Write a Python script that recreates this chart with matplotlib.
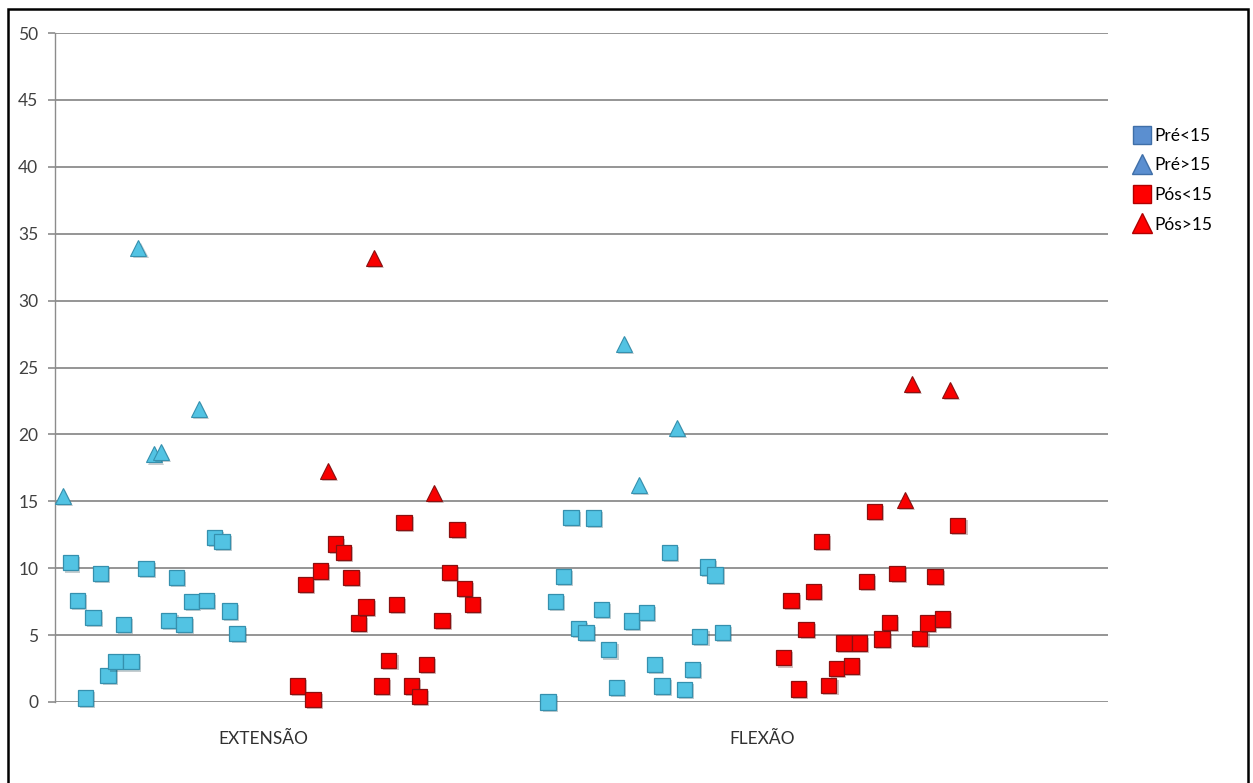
import matplotlib.pyplot as plt
import matplotlib.patheffects as pe
from matplotlib.lines import Line2D
from matplotlib.patches import Rectangle

plt.rcParams['font.family'] = ['Lato', 'DejaVu Sans']

# category index of every point, and its value (square < 15, triangle > 15)
pre_ext_x = list(range(1, 25))
pre_ext_y = [15.4, 10.4, 7.6, 0.3, 6.3, 9.6, 2.0, 3.0, 5.8, 3.0, 33.9, 10.0,
             18.5, 18.7, 6.1, 9.3, 5.8, 7.5, 21.9, 7.6, 12.3, 12.0, 6.8, 5.1]
pos_ext_x = list(range(32, 56))
pos_ext_y = [1.2, 8.8, 0.2, 9.8, 17.3, 11.8, 11.2, 9.3, 5.9, 7.1, 33.2, 1.2,
             3.1, 7.3, 13.4, 1.2, 0.4, 2.8, 15.6, 6.1, 9.7, 12.9, 8.5, 7.3]
pre_flx_x = list(range(65, 89))
pre_flx_y = [0.0, 7.5, 9.4, 13.8, 5.5, 5.2, 13.75, 6.9, 3.9, 1.1, 26.75, 6.05,
             16.25, 6.7, 2.8, 1.2, 11.2, 20.5, 0.95, 2.45, 4.9, 10.1, 9.5, 5.2]
pos_flx_x = list(range(96, 120))
pos_flx_y = [3.3, 7.6, 0.98, 5.4, 8.25, 12.0, 1.25, 2.5, 4.4, 2.7, 4.4, 9.0,
             14.25, 4.7, 5.95, 9.6, 15.1, 23.8, 4.75, 5.9, 9.4, 6.2, 23.3, 13.2]

categories = ['EXTENSÃO', 'FLEXÃO']
cat_pos = [27.5, 93.2]
legend_labels = ['Pré<15', 'Pré>15', 'Pós<15', 'Pós>15']

fig = plt.figure(figsize=(12.53, 7.83), dpi=100)
ax = fig.add_axes([55 / 1253, 81 / 783, 1053 / 1253, 669 / 783])

shadow = [pe.SimplePatchShadow(offset=(1.5, -1.5), alpha=0.25), pe.Normal()]

def draw(xs, ys, face, edge):
    for x, y in zip(xs, ys):
        if y > 15:
            ax.plot(x, y, marker='^', ms=11.5, mfc=face, mec=edge, mew=0.8,
                    linestyle='none', clip_on=False, zorder=3, path_effects=shadow)
        else:
            ax.plot(x, y, marker='s', ms=11, mfc=face, mec=edge, mew=0.9,
                    linestyle='none', clip_on=False, zorder=3, path_effects=shadow)

draw(pre_ext_x, pre_ext_y, '#52C3E3', '#3590AE')
draw(pre_flx_x, pre_flx_y, '#52C3E3', '#3590AE')
draw(pos_ext_x, pos_ext_y, '#F80000', '#8A1010')
draw(pos_flx_x, pos_flx_y, '#F80000', '#8A1010')

ax.set_xlim(0, 138.8)
ax.set_ylim(0, 50)
ax.set_yticks(range(0, 51, 5))
ax.set_xticks(cat_pos)
ax.set_xticklabels(categories)
ax.grid(axis='y', color='#8C8C8C', linewidth=1.3)
ax.set_axisbelow(True)
for s in ['top', 'right', 'bottom']:
    ax.spines[s].set_visible(False)
ax.spines['left'].set_color('#8C8C8C')
ax.spines['left'].set_linewidth(1.0)
ax.tick_params(axis='y', length=5, color='#8C8C8C', width=1.2,
               labelsize=12.5, labelcolor='#404040', pad=7)
ax.tick_params(axis='x', length=0, labelsize=12.5, labelcolor='#303030', pad=21)

handles = [
    Line2D([], [], marker='s', ms=13, mfc='#5B8FD0', mec='#3F6FA8', linestyle='none'),
    Line2D([], [], marker='^', ms=15, mfc='#5B8FD0', mec='#3F6FA8', linestyle='none'),
    Line2D([], [], marker='s', ms=13, mfc='#FF0000', mec='#B00000', linestyle='none'),
    Line2D([], [], marker='^', ms=15, mfc='#FF0000', mec='#B00000', linestyle='none'),
]
fig.legend(handles, legend_labels, loc='upper left',
           bbox_to_anchor=(1128 / 1253, 1 - 121 / 783), frameon=False,
           fontsize=12.5, handlelength=0.8, handletextpad=0.3, labelspacing=0.78,
           borderaxespad=0)

# outer chart frame
fig.patches.append(Rectangle((8 / 1253, -0.01), 1240 / 1253, 1 - 9 / 783 + 0.01,
                             transform=fig.transFigure, fill=False,
                             edgecolor='black', linewidth=1.8))

fig.savefig('out.png', dpi=100)
